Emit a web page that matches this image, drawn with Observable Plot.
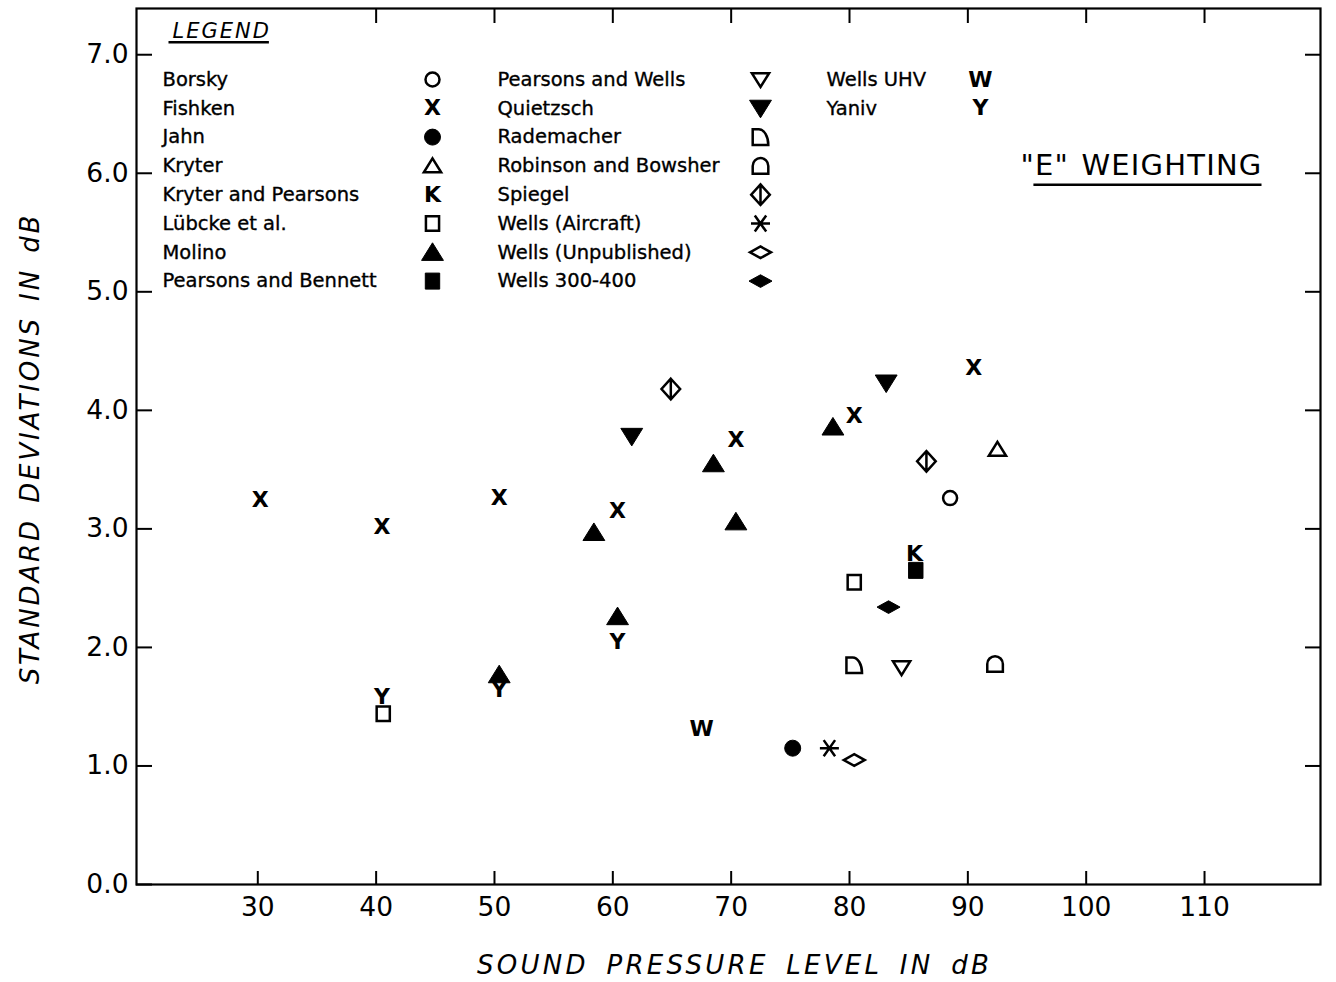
<!DOCTYPE html>
<html>
<head>
<meta charset="utf-8">
<script src="https://cdn.jsdelivr.net/npm/d3@7"></script>
<script src="https://cdn.jsdelivr.net/npm/@observablehq/plot@0.6"></script>
<style>
html, body { margin: 0; padding: 0; background: #fff; }
svg { display: block; }
</style>
</head>
<body>
<div id="chart"></div>
<script>
// ---------- data ----------
const xTicks = [30, 40, 50, 60, 70, 80, 90, 100, 110];
const xTopTicks = [40, 50, 60, 70, 80, 90, 100, 110];
const yTicks = [0, 1, 2, 3, 4, 5, 6, 7];
const yRightTicks = [1, 2, 3, 4, 5, 6, 7];

const pointSeries = [
  "Borsky",
  "Fishken", "Fishken", "Fishken", "Fishken", "Fishken", "Fishken", "Fishken",
  "Jahn",
  "Kryter",
  "Kryter and Pearsons",
  "Lübcke et al.", "Lübcke et al.",
  "Molino", "Molino", "Molino", "Molino", "Molino", "Molino",
  "Pearsons and Bennett",
  "Pearsons and Wells",
  "Quietzsch", "Quietzsch",
  "Rademacher",
  "Robinson and Bowsher",
  "Spiegel", "Spiegel",
  "Wells (Aircraft)",
  "Wells (Unpublished)",
  "Wells 300-400",
  "Wells UHV",
  "Yaniv", "Yaniv", "Yaniv"
];
const pointX = [
  88.5,
  30.2, 40.5, 50.4, 60.4, 70.4, 80.4, 90.5,
  75.2,
  92.5,
  85.5,
  40.6, 80.4,
  58.4, 60.4, 50.4, 68.5, 70.4, 78.6,
  85.6,
  84.4,
  61.6, 83.1,
  80.4,
  92.3,
  64.9, 86.5,
  78.3,
  80.4,
  83.3,
  67.5,
  60.4, 50.4, 40.5
];
const pointY = [
  3.26,
  3.24, 3.02, 3.26, 3.15, 3.75, 3.95, 4.36,
  1.15,
  3.67,
  2.79,
  1.44, 2.55,
  2.97, 2.26, 1.77, 3.55, 3.06, 3.86,
  2.65,
  1.83,
  3.78, 4.23,
  1.85,
  1.86,
  4.18, 3.57,
  1.15,
  1.05,
  2.34,
  1.31,
  2.05, 1.64, 1.58
];

const legendCol1 = ["Borsky", "Fishken", "Jahn", "Kryter", "Kryter and Pearsons", "Lübcke et al.", "Molino", "Pearsons and Bennett"];
const legendCol2 = ["Pearsons and Wells", "Quietzsch", "Rademacher", "Robinson and Bowsher", "Spiegel", "Wells (Aircraft)", "Wells (Unpublished)", "Wells 300-400"];
const legendCol3 = ["Wells UHV", "Yaniv"];

const xTitle = "SOUND PRESSURE LEVEL IN dB";
const yTitle = "STANDARD DEVIATIONS IN dB";
const legendTitle = "LEGEND";
const chartTitle = "\"E\" WEIGHTING";

// ---------- symbols ----------
const S = f => ({draw(c, size) { f(c, Math.sqrt(size / Math.PI)); }});
const shapes = {
  circle: S((c, r) => { c.moveTo(r, 0); c.arc(0, 0, r, 0, 2 * Math.PI); c.closePath(); }),
  triUp: S((c, r) => { c.moveTo(0, -r); c.lineTo(r * 1.15, r * 0.85); c.lineTo(-r * 1.15, r * 0.85); c.closePath(); }),
  triDown: S((c, r) => { c.moveTo(0, r); c.lineTo(r * 1.15, -r * 0.85); c.lineTo(-r * 1.15, -r * 0.85); c.closePath(); }),
  square: S((c, r) => { c.rect(-r * 0.9, -r, r * 1.8, r * 2); }),
  quarter: S((c, r) => {
    c.moveTo(-r, r); c.lineTo(-r, -r); c.lineTo(-0.2 * r, -r);
    c.bezierCurveTo(0.46 * r, -r, r, -0.1 * r, r, r); c.closePath();
  }),
  arch: S((c, r) => {
    c.moveTo(-r, r); c.lineTo(-r, 0); c.arc(0, 0, r, Math.PI, 2 * Math.PI); c.lineTo(r, r); c.closePath();
  }),
  splitDiamond: S((c, r) => {
    const w = r * 0.95, h = r * 1.05;
    c.moveTo(0, -h); c.lineTo(w, 0); c.lineTo(0, h); c.lineTo(-w, 0); c.closePath();
    c.moveTo(0, -h); c.lineTo(0, h);
  }),
  asterisk: S((c, r) => {
    c.moveTo(-r, 0); c.lineTo(r, 0);
    c.moveTo(-0.6 * r, -0.85 * r); c.lineTo(0.6 * r, 0.85 * r);
    c.moveTo(0.6 * r, -0.85 * r); c.lineTo(-0.6 * r, 0.85 * r);
  }),
  flatDiamond: S((c, r) => { c.moveTo(-r, 0); c.lineTo(0, -0.55 * r); c.lineTo(r, 0); c.lineTo(0, 0.55 * r); c.closePath(); })
};

const seriesStyle = {
  "Borsky": {shape: "circle", r: 7, filled: false},
  "Fishken": {letter: "X"},
  "Jahn": {shape: "circle", r: 8, filled: true},
  "Kryter": {shape: "triUp", r: 7.5, filled: false},
  "Kryter and Pearsons": {letter: "K"},
  "Lübcke et al.": {shape: "square", r: 7.3, filled: false},
  "Molino": {shape: "triUp", r: 9.5, filled: true},
  "Pearsons and Bennett": {shape: "square", r: 8, filled: true},
  "Pearsons and Wells": {shape: "triDown", r: 7.5, filled: false},
  "Quietzsch": {shape: "triDown", r: 9.5, filled: true},
  "Rademacher": {shape: "quarter", r: 7.8, filled: false},
  "Robinson and Bowsher": {shape: "arch", r: 7.8, filled: false},
  "Spiegel": {shape: "splitDiamond", r: 9.8, filled: false},
  "Wells (Aircraft)": {shape: "asterisk", r: 9.5, filled: false},
  "Wells (Unpublished)": {shape: "flatDiamond", r: 10.5, filled: false},
  "Wells 300-400": {shape: "flatDiamond", r: 11.5, filled: true},
  "Wells UHV": {letter: "W"},
  "Yaniv": {letter: "Y"}
};

// ---------- layout ----------
const W = 1336, H = 982;
const mL = 136, mR = 16, mT = 8, mB = 98;
const plotW = W - mL - mR, plotH = H - mT - mB;
const FONT = "DejaVu Sans";

function markFor(name, data, opts) {
  const st = seriesStyle[name];
  if (st.letter) {
    return Plot.text(data, {...opts, text: () => st.letter, fontSize: 22, fontWeight: "bold",
      fontFamily: FONT, lineAnchor: "middle", textAnchor: "middle", fill: "black"});
  }
  return Plot.dot(data, {...opts, symbol: shapes[st.shape], r: st.r,
    fill: st.filled ? "black" : "none", stroke: "black", strokeWidth: st.filled ? 1 : 2.5});
}

const points = pointSeries.map((s, i) => ({series: s, x: pointX[i], y: pointY[i]}));
const dataMarks = Object.keys(seriesStyle).map(name =>
  markFor(name, points.filter(p => p.series === name), {x: "x", y: "y"}));

// legend (positioned relative to the frame's top-left corner)
const legendCols = [
  {names: legendCol1, nameDx: 26, symDx: 296},
  {names: legendCol2, nameDx: 361, symDx: 624},
  {names: legendCol3, nameDx: 690, symDx: 844}
];
const legendMarks = [];
legendCols.forEach(col => col.names.forEach((name, row) => {
  const dy = 71 + row * 28.8;
  legendMarks.push(Plot.text([name], {x: null, y: null, text: d => d, frameAnchor: "top-left", dx: col.nameDx, dy,
    textAnchor: "start", lineAnchor: "middle", fontSize: 19.5, fontFamily: FONT, fill: "black", stroke: "black", strokeWidth: 0.35}));
  legendMarks.push(markFor(name, [name], {x: null, y: null, frameAnchor: "top-left", dx: col.symDx, dy}));
}));

const chart = Plot.plot({
  width: W, height: H,
  marginLeft: mL, marginRight: mR, marginTop: mT, marginBottom: mB,
  style: {fontFamily: FONT, background: "white", color: "black"},
  x: {domain: [19.75, 119.8]},
  y: {domain: [0, 7.39]},
  marks: [
    Plot.frame({stroke: "black", strokeWidth: 2.2}),
    Plot.tickX(xTicks, {x: d => d, insetTop: plotH - 13, strokeWidth: 2}),
    Plot.tickX(xTopTicks, {x: d => d, insetBottom: plotH - 15, strokeWidth: 2}),
    Plot.tickY(yTicks, {y: d => d, insetRight: plotW - 16, strokeWidth: 2}),
    Plot.tickY(yRightTicks, {y: d => d, insetLeft: plotW - 15, strokeWidth: 2}),
    Plot.axisX(xTicks, {tickSize: 0, tickPadding: 13, fontSize: 26.5, fontFamily: FONT, label: null}),
    Plot.axisY(yTicks, {tickSize: 0, tickPadding: 8, fontSize: 26.5, fontFamily: FONT, label: null, tickFormat: d3.format(".1f")}),
    Plot.text([xTitle], {x: null, y: null, text: d => d, frameAnchor: "bottom", dx: 6, dy: 81,
      textAnchor: "middle", lineAnchor: "middle", fontSize: 26, fontStyle: "italic", fontFamily: FONT, fill: "black"}),
    Plot.text([yTitle], {x: null, y: null, text: d => d, frameAnchor: "left", dx: -106, dy: 2, rotate: -90,
      textAnchor: "middle", lineAnchor: "middle", fontSize: 26, fontStyle: "italic", fontFamily: FONT, fill: "black"}),
    Plot.text([legendTitle], {x: null, y: null, text: d => d, frameAnchor: "top-left", dx: 36, dy: 23,
      textAnchor: "start", lineAnchor: "middle", fontSize: 21, fontStyle: "italic", fontFamily: FONT, fill: "black"}),
    Plot.text([chartTitle], {x: null, y: null, text: d => d, frameAnchor: "top-right", dx: -58, dy: 157,
      textAnchor: "end", lineAnchor: "middle", fontSize: 29, fontFamily: FONT, fill: "black"}),
    ...legendMarks,
    ...dataMarks
  ]
});

document.getElementById("chart").append(chart);

// text spacing and underlines
const spacing = {
  [xTitle]: {ls: "3.3px", ws: "6px"},
  [yTitle]: {ls: "2.9px", ws: "4px"},
  [legendTitle]: {ls: "2px", ws: "0px"},
  [chartTitle]: {ls: "1.2px", ws: "2px"}
};
const svg = d3.select(chart);
svg.selectAll("text").each(function() {
  const sp = spacing[this.textContent];
  if (sp) { this.style.letterSpacing = sp.ls; this.style.wordSpacing = sp.ws; }
});
function underline(textContent, startPad, endPad, below) {
  svg.selectAll("text").filter(function() { return this.textContent === textContent; }).each(function() {
    const b = this.getBBox();
    const p1 = chart.createSVGPoint(); p1.x = b.x + startPad; p1.y = b.y + b.height + below;
    const p2 = chart.createSVGPoint(); p2.x = b.x + b.width - endPad; p2.y = b.y + b.height + below;
    const sm = chart.getScreenCTM().inverse();
    const q1 = p1.matrixTransform(this.getScreenCTM()).matrixTransform(sm);
    const q2 = p2.matrixTransform(this.getScreenCTM()).matrixTransform(sm);
    svg.append("line").attr("x1", q1.x).attr("y1", q1.y).attr("x2", q2.x).attr("y2", q2.y)
      .attr("stroke", "black").attr("stroke-width", 2.5);
  });
}
underline(legendTitle, -4, 2, -1);
underline(chartTitle, 13, 1, 3);
</script>
</body>
</html>
